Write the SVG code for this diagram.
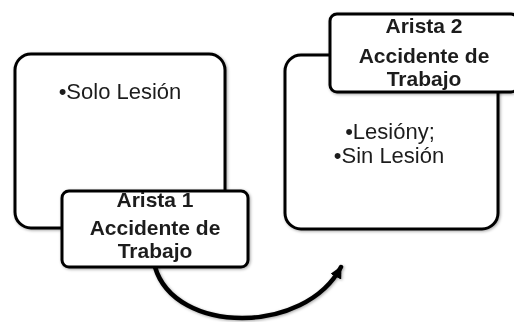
<svg xmlns="http://www.w3.org/2000/svg" width="514" height="322" viewBox="0 0 514 322">
  <defs>
    <style>
      .box { fill: #ffffff; stroke: #000000; stroke-width: 3; }
      .title { font-family: "Liberation Sans", Arial, sans-serif; font-size: 21px; font-weight: bold; fill: #1e1e1e; text-anchor: middle; }
      .bullet { font-family: "Liberation Sans", Arial, sans-serif; font-size: 22px; fill: #1e1e1e; text-anchor: middle; }
      .conn { fill: none; stroke: #000000; stroke-width: 4.5; stroke-linecap: round; }
    </style>
    <filter id="shadow" x="-10%" y="-10%" width="130%" height="130%">
      <feDropShadow dx="1" dy="1" stdDeviation="1.5" flood-color="#000000" flood-opacity="0.35"/>
    </filter>
    <marker id="arrow" viewBox="0 0 12 12" refX="11" refY="6" markerWidth="12" markerHeight="12" markerUnits="userSpaceOnUse" orient="auto">
      <path d="M0,0 L12,6 L0,12 Z" fill="#000000"/>
    </marker>
  </defs>
  <rect width="514" height="322" fill="#ffffff"/>

  <g id="connectors" filter="url(#shadow)">
    <path class="conn" d="M155,267 C175,335 305,335 341,267" marker-end="url(#arrow)"/>
  </g>

  <g id="node-left-box" filter="url(#shadow)">
    <rect class="box" x="15" y="54" width="210" height="174" rx="16" ry="16"/>
    <text class="bullet" x="120" y="99">•Solo Lesión</text>
  </g>

  <g id="node-right-box" filter="url(#shadow)">
    <rect class="box" x="285" y="55" width="213" height="174" rx="16" ry="16"/>
    <text class="bullet" x="390" y="139">•Lesióny;</text>
    <text class="bullet" x="389" y="163">•Sin Lesión</text>
  </g>

  <g id="node-arista1" filter="url(#shadow)">
    <rect class="box" x="62" y="191" width="186" height="76" rx="7" ry="7"/>
    <text class="title" x="155" y="207">Arista 1</text>
    <text class="title" x="155" y="235">Accidente de</text>
    <text class="title" x="155" y="258">Trabajo</text>
  </g>

  <g id="node-arista2" filter="url(#shadow)">
    <rect class="box" x="330" y="14" width="188" height="78" rx="7" ry="7"/>
    <text class="title" x="424" y="33">Arista 2</text>
    <text class="title" x="424" y="63">Accidente de</text>
    <text class="title" x="424" y="86">Trabajo</text>
  </g>
</svg>
